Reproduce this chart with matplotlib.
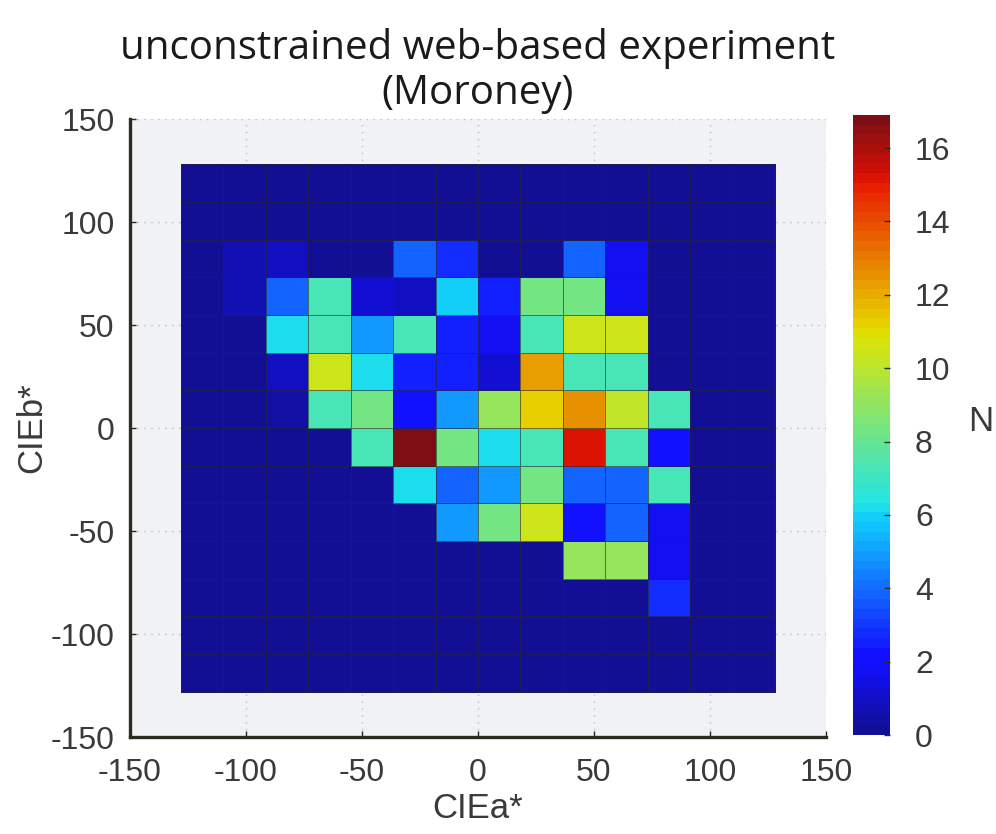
import numpy as np
from matplotlib import pyplot as plt
from matplotlib.colors import ListedColormap

# histogram of chosen colours in CIE a*b*, rows listed from top (b* high) to bottom
counts = [
    [0, 0, 0, 0, 0, 0, 0, 0, 0, 0, 0, 0, 0, 0],
    [0, 0, 0, 0, 0, 0, 0, 0, 0, 0, 0, 0, 0, 0],
    [0, 0.6, 0.8, 0, 0, 3.8, 2.8, 0, 0, 3.8, 1.8, 0, 0, 0],
    [0, 0.7, 3.8, 7.3, 1.2, 0.8, 6.0, 2.5, 8.2, 8.2, 1.8, 0, 0, 0],
    [0, 0, 6.2, 7.3, 5.0, 7.3, 2.5, 1.8, 7.3, 10.4, 10.4, 0, 0, 0],
    [0, 0, 1.0, 10.4, 6.2, 2.5, 2.5, 1.2, 12.3, 7.3, 7.3, 0, 0, 0],
    [0, 0, 0.5, 7.3, 8.2, 2.3, 5.0, 9.2, 11.2, 12.6, 10.2, 7.3, 0, 0],
    [0, 0, 0, 0, 7.3, 16.9, 8.2, 6.2, 7.3, 15.3, 7.3, 2.3, 0, 0],
    [0, 0, 0, 0, 0, 6.2, 3.8, 4.8, 8.2, 3.8, 3.8, 7.3, 0, 0],
    [0, 0, 0, 0, 0, 0, 5.0, 8.2, 10.4, 2.3, 3.8, 1.8, 0, 0],
    [0, 0, 0, 0, 0, 0, 0, 0, 0, 9.2, 9.2, 1.8, 0, 0],
    [0, 0, 0, 0, 0, 0, 0, 0, 0, 0, 0, 2.8, 0, 0],
    [0, 0, 0, 0, 0, 0, 0, 0, 0, 0, 0, 0, 0, 0],
    [0, 0, 0, 0, 0, 0, 0, 0, 0, 0, 0, 0, 0, 0],
]
bin_edges = np.linspace(-128, 128, 15)
axis_ticks = [-150, -100, -50, 0, 50, 100, 150]
cbar_ticks = [0, 2, 4, 6, 8, 10, 12, 14, 16]

plt.rcParams["font.family"] = ["Liberation Sans", "DejaVu Sans"]
plt.rcParams["axes.unicode_minus"] = False
text_color = "#3a3a3a"
line_color = "#2b2b22"


def soft_jet(n=64):
    # jet, a little washed out like the printed figure
    rgb = plt.get_cmap("jet", n)(np.arange(n))[:, :3]
    out = 0.84 * rgb + np.array([0.07, 0.06, 0.0])
    out[:, 2] += 0.16 * (1 - rgb[:, 0])
    return ListedColormap(np.clip(out, 0, 1))


fig = plt.figure(figsize=(9.96, 8.34), dpi=100)
ax = fig.add_axes([0.1305, 0.1163, 0.6988, 0.741])
cax = fig.add_axes([0.8564, 0.1187, 0.0371, 0.7434])

ax.set_facecolor("#f0f2f6")
ax.set_axisbelow(True)
ax.grid(True, linestyle=(0, (1, 4)), color="#b8bcc4", linewidth=1.0)

z = np.flipud(np.array(counts))
mesh = ax.pcolormesh(bin_edges, bin_edges, z, cmap=soft_jet(),
                     vmin=0, vmax=16.9, edgecolors=(0.15, 0.15, 0.18, 0.6),
                     linewidth=0.6)

ax.set_xlim(-150, 150)
ax.set_ylim(-150, 150)
ax.set_xticks(axis_ticks)
ax.set_yticks(axis_ticks)
for side in ["top", "right"]:
    ax.spines[side].set_visible(False)
for side in ["left", "bottom"]:
    ax.spines[side].set_linewidth(2.4)
    ax.spines[side].set_color(line_color)
ax.tick_params(direction="in", length=4, width=1, colors=line_color,
               labelsize=23, labelcolor=text_color)
ax.tick_params(axis="x", pad=15)
ax.tick_params(axis="y", pad=11)

ax.set_xlabel("CIEa*", fontsize=25, color=text_color, labelpad=3)
ax.set_ylabel("CIEb*", fontsize=25, color=text_color, labelpad=2)
ax.set_title("unconstrained web-based experiment\n(Moroney)", fontsize=29,
             family=["Open Sans", "DejaVu Sans"], color="#1a1a1a",
             linespacing=1.15, pad=11)

cb = fig.colorbar(mesh, cax=cax, ticks=cbar_ticks)
cb.outline.set_visible(False)
cax.tick_params(direction="in", length=4, width=1, colors=line_color,
                labelsize=23, labelcolor=text_color, pad=18)
cb.set_label("N", fontsize=25, color=text_color, rotation=0, va="center",
             ha="center")
cax.yaxis.set_label_coords(3.45, 0.505)

fig.savefig("out.png", dpi=100)
